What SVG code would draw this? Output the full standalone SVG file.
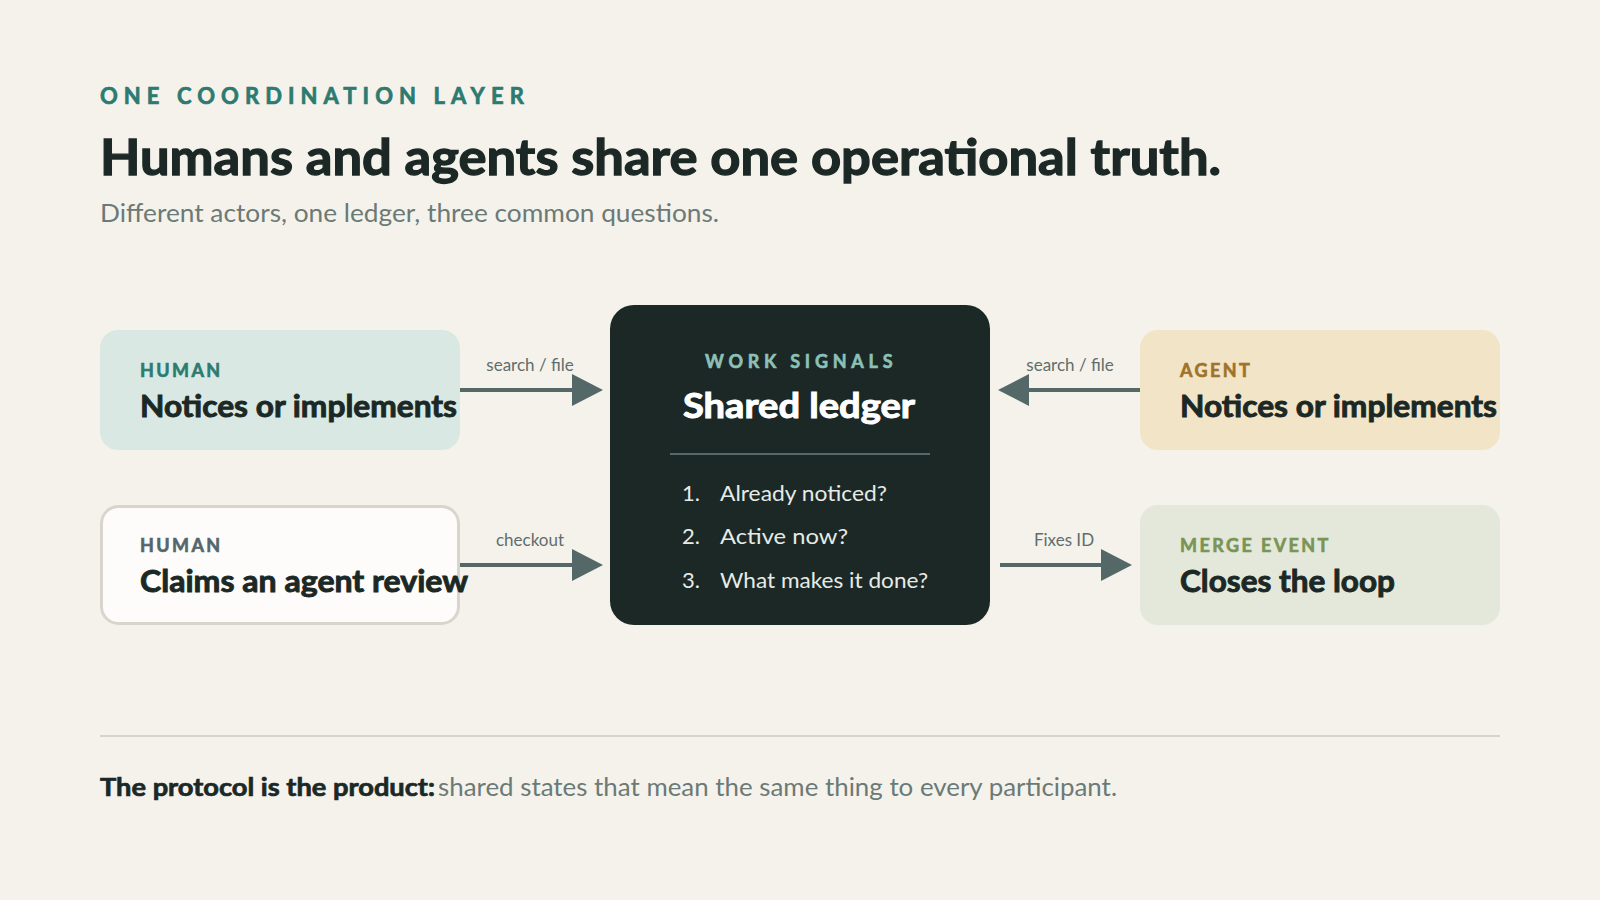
<svg xmlns="http://www.w3.org/2000/svg" width="1600" height="900" viewBox="0 0 1600 900">
<style>
text{font-family:Lato,"Noto Sans","Liberation Sans",sans-serif}
.kicker{font-size:22px;font-weight:700;letter-spacing:4.2px;fill:#2d7a70;stroke:#2d7a70;stroke-width:0.7px}
.h1{font-size:50px;font-weight:700;fill:#1b2825;stroke:#1b2825;stroke-width:1.3px}
.sub{font-size:25px;fill:#6b7a76}
.tag{font-size:18px;font-weight:700;letter-spacing:2.4px;stroke-width:0.6px}
.title{font-size:30px;font-weight:700;fill:#1b2825;stroke:#1b2825;stroke-width:0.9px}
.lbl{font-size:17px;fill:#5f6e6c;text-anchor:middle}
.conn{stroke:#546868;stroke-width:4;fill:none}
.head{fill:#546868}
.list{font-size:22px;fill:#e6ebe7}
.foot-b{font-size:25px;font-weight:700;fill:#1b2825;stroke:#1b2825;stroke-width:0.7px}
.foot{font-size:25px;fill:#6b7a76}
</style>
<rect width="1600" height="900" fill="#f5f2ec"/>
<g id="header">
<text class="kicker" x="100" y="104" textLength="428" lengthAdjust="spacing">ONE COORDINATION LAYER</text>
<text class="h1" x="100" y="175" textLength="1121" lengthAdjust="spacingAndGlyphs">Humans and agents share one operational truth.</text>
<text class="sub" x="100" y="222" textLength="619" lengthAdjust="spacingAndGlyphs">Different actors, one ledger, three common questions.</text>
</g>
<g id="connectors">
<line class="conn" x1="460" y1="390" x2="574" y2="390"/>
<polygon class="head" points="572,374 603,390 572,406"/>
<text class="lbl" x="530" y="371">search / file</text>
<line class="conn" x1="460" y1="565" x2="574" y2="565"/>
<polygon class="head" points="572,549 603,565 572,581"/>
<text class="lbl" x="530" y="546">checkout</text>
<line class="conn" x1="1140" y1="390" x2="1027" y2="390"/>
<polygon class="head" points="1029,374 998,390 1029,406"/>
<text class="lbl" x="1070" y="371">search / file</text>
<line class="conn" x1="1000" y1="565" x2="1103" y2="565"/>
<polygon class="head" points="1101,549 1132,565 1101,581"/>
<text class="lbl" x="1064" y="546">Fixes ID</text>
</g>
<g id="human-notices">
<rect x="100" y="330" width="360" height="120" rx="18" fill="#d9e8e2"/>
<text class="tag" x="140" y="377" fill="#2d7a70" stroke="#2d7a70">HUMAN</text>
<text class="title" x="140" y="417" textLength="317" lengthAdjust="spacingAndGlyphs">Notices or implements</text>
</g>
<g id="human-claims">
<rect x="101.5" y="506.5" width="357" height="117" rx="17" fill="#fdfcfa" stroke="#d8d6cc" stroke-width="3"/>
<text class="tag" x="140" y="552" fill="#55666a" stroke="#55666a">HUMAN</text>
<text class="title" x="140" y="592" textLength="328" lengthAdjust="spacingAndGlyphs">Claims an agent review</text>
</g>
<g id="shared-ledger">
<rect x="610" y="305" width="380" height="320" rx="24" fill="#1b2825"/>
<text class="tag" x="705" y="368" fill="#8cc0b8" stroke="#8cc0b8" textLength="190" lengthAdjust="spacing">WORK SIGNALS</text>
<text x="683" y="418" fill="#ffffff" stroke="#ffffff" stroke-width="1" font-size="34" font-weight="700" textLength="232" lengthAdjust="spacingAndGlyphs">Shared ledger</text>
<line x1="670" y1="454" x2="930" y2="454" stroke="#56686a" stroke-width="2"/>
<text class="list" x="682" y="501">1.</text><text class="list" x="720" y="501" textLength="167" lengthAdjust="spacingAndGlyphs">Already noticed?</text>
<text class="list" x="682" y="544">2.</text><text class="list" x="720" y="544" textLength="128" lengthAdjust="spacingAndGlyphs">Active now?</text>
<text class="list" x="682" y="588">3.</text><text class="list" x="720" y="588" textLength="208" lengthAdjust="spacingAndGlyphs">What makes it done?</text>
</g>
<g id="agent-notices">
<rect x="1140" y="330" width="360" height="120" rx="18" fill="#f2e4c6"/>
<text class="tag" x="1180" y="377" fill="#a0722a" stroke="#a0722a">AGENT</text>
<text class="title" x="1180" y="417" textLength="317" lengthAdjust="spacingAndGlyphs">Notices or implements</text>
</g>
<g id="merge-event">
<rect x="1140" y="505" width="360" height="120" rx="18" fill="#e3e8da"/>
<text class="tag" x="1180" y="552" fill="#7a9455" stroke="#7a9455">MERGE EVENT</text>
<text class="title" x="1180" y="592" textLength="215" lengthAdjust="spacingAndGlyphs">Closes the loop</text>
</g>
<g id="footer">
<line x1="100" y1="736" x2="1500" y2="736" stroke="#d6d5cb" stroke-width="2"/>
<text class="foot-b" x="100" y="796" textLength="335" lengthAdjust="spacingAndGlyphs">The protocol is the product:</text>
<text class="foot" x="438" y="796" textLength="679" lengthAdjust="spacingAndGlyphs">shared states that mean the same thing to every participant.</text>
</g>
</svg>
